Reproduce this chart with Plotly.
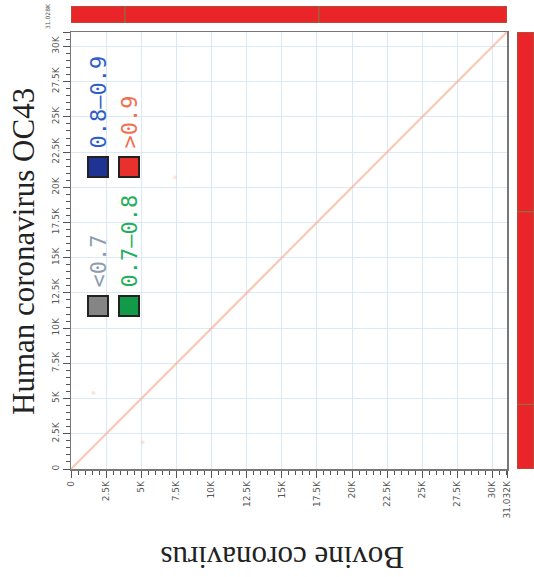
import plotly.graph_objects as go

# ---------------- data ----------------
bovine_len = 31032
human_len = 31028

tick_vals = [0, 2500, 5000, 7500, 10000, 12500, 15000, 17500, 20000, 22500, 25000, 27500, 30000]
tick_text = ["0", "2.5K", "5K", "7.5K", "10K", "12.5K", "15K", "17.5K", "20K", "22.5K", "25K", "27.5K", "30K"]

# genome segment boundaries (annotation bars)
bovine_segments = [0, 3843, 17651, 31032]
human_segments = [0, 4594, 18269, 31028]

# alignment (dot plot) : main diagonal and a few faint hits
align_x = [0, 31032]
align_y = [0, 31028]
faint_x = [1600, 5100, 7400]
faint_y = [5400, 1900, 20700]

# identity legend
legend_labels = ["<0.7", "0.7\u20130.8", "0.8\u20130.9", ">0.9"]
legend_fill = ["#858585", "#139a48", "#1f3394", "#e8302c"]
legend_text_col = ["#8b9cae", "#1faf5a", "#2c5ec9", "#f36e4e"]

x_title = "Bovine coronavirus"
y_title = "Human coronavirus OC43"

# ---------------- figure ----------------
W, H = 534, 577
L, R, T, B = 71, 0, 6, 108
plot_r, plot_t = 507, 32        # right / top edge of the main plot (px)
bar_r0, bar_t1 = 517, 23        # right bar start, top bar bottom (px)
pw, ph = W - L - R, H - T - B

def px2paper(px, py):
    return (px - L) / pw, (H - B - py) / ph

x_dom = [0, (plot_r - L) / pw]
x2_dom = [(bar_r0 - L) / pw, 1]
y_dom = [0, (H - B - plot_t) / ph]
y2_dom = [(H - B - bar_t1) / ph, 1]

def seg_starts(s):
    return s[:-1]

def seg_lens(s):
    return [b - a for a, b in zip(s[:-1], s[1:])]

fig = go.Figure()

fig.add_trace(go.Scatter(x=align_x, y=align_y, mode="lines",
                         line=dict(color="rgba(247,178,152,0.7)", width=2.2),
                         hoverinfo="skip", showlegend=False))
fig.add_trace(go.Scatter(x=faint_x, y=faint_y, mode="markers",
                         marker=dict(color="rgba(246,170,140,0.3)", size=4),
                         hoverinfo="skip", showlegend=False))

bar_marker = dict(color="#ea2529", line=dict(color="#8a7048", width=1))
# top bar: bovine genome
fig.add_trace(go.Bar(orientation="h", y=[0.5] * (len(bovine_segments) - 1),
                     x=seg_lens(bovine_segments), base=seg_starts(bovine_segments),
                     width=1, marker=bar_marker, xaxis="x", yaxis="y2",
                     hoverinfo="skip", showlegend=False))
# right bar: human genome
fig.add_trace(go.Bar(orientation="v", x=[0.5] * (len(human_segments) - 1),
                     y=seg_lens(human_segments), base=seg_starts(human_segments),
                     width=1, marker=bar_marker, xaxis="x2", yaxis="y",
                     hoverinfo="skip", showlegend=False))

shapes = []
annotations = []

# legend (rotated)
sq = 20
centers = [(98, 306), (129, 306), (98, 167), (129, 167)]
for lab, fc, tc, (cx, cy) in zip(legend_labels, legend_fill, legend_text_col, centers):
    x0, y0 = px2paper(cx - sq / 2, cy + sq / 2)
    x1, y1 = px2paper(cx + sq / 2, cy - sq / 2)
    shapes.append(dict(type="rect", xref="paper", yref="paper", x0=x0, x1=x1, y0=y0, y1=y1,
                       fillcolor=fc, line=dict(color="#222222", width=2)))
    ax, ay = px2paper(cx, cy - sq / 2 - 6)
    annotations.append(dict(xref="paper", yref="paper", x=ax, y=ay, text=lab, showarrow=False,
                            textangle=-90, xanchor="center", yanchor="bottom",
                            font=dict(family="DejaVu Sans Mono", size=22, color=tc)))

# axis titles
bx, by = px2paper(282, 558)
annotations.append(dict(xref="paper", yref="paper", x=bx, y=by, text=x_title, showarrow=False,
                        textangle=180, xanchor="center", yanchor="middle",
                        font=dict(family="Liberation Serif", size=31, color="#222222")))
hx, hy = px2paper(23, 252)
annotations.append(dict(xref="paper", yref="paper", x=hx, y=hy, text=y_title, showarrow=False,
                        textangle=-90, xanchor="center", yanchor="middle",
                        font=dict(family="Liberation Serif", size=31, color="#222222")))

# y end label
annotations.append(dict(xref="paper", yref="y", x=px2paper(47, 0)[0], y=human_len,
                        text="31.028K", showarrow=False, textangle=-90,
                        xanchor="center", yanchor="bottom", yshift=1,
                        font=dict(family="DejaVu Sans", size=6, color="#555555")))

axis_common = dict(
    ticks="outside", ticklen=7, tickwidth=1, tickcolor="#555555",
    showgrid=True, gridcolor="#dbe8f6", gridwidth=1,
    showline=True, linecolor="#777777", linewidth=1.5, mirror=True,
    zeroline=False, tickangle=-90, automargin=False,
    tickfont=dict(family="DejaVu Sans", size=9, color="#555555"),
    minor=dict(ticks="outside", ticklen=4, tickcolor="#555555", dtick=500, tick0=0, showgrid=False),
)
hidden = dict(visible=False, showgrid=False, zeroline=False, range=[0, 1], fixedrange=True)

fig.update_layout(
    width=W, height=H,
    margin=dict(l=L, r=R, t=T, b=B, autoexpand=False),
    paper_bgcolor="white", plot_bgcolor="white",
    xaxis=dict(domain=x_dom, anchor="y", range=[0, bovine_len], tickmode="array",
               tickvals=tick_vals + [bovine_len],
               ticktext=tick_text + ["31.032K"], **axis_common),
    yaxis=dict(domain=y_dom, anchor="x", range=[0, human_len], tickmode="array",
               tickvals=tick_vals + [human_len],
               ticktext=tick_text + [""], **axis_common),
    xaxis2=dict(domain=x2_dom, anchor="y", **hidden),
    yaxis2=dict(domain=y2_dom, anchor="x", **hidden),
    shapes=shapes, annotations=annotations, showlegend=False,
    barmode="overlay", bargap=0,
)

fig.write_html(
    "out.html",
    config={"displayModeBar": False, "staticPlot": True},
    post_script=("document.documentElement.style.overflow='hidden';"
                 "document.body.style.overflow='hidden';"
                 "document.body.style.margin='0';"),
)
